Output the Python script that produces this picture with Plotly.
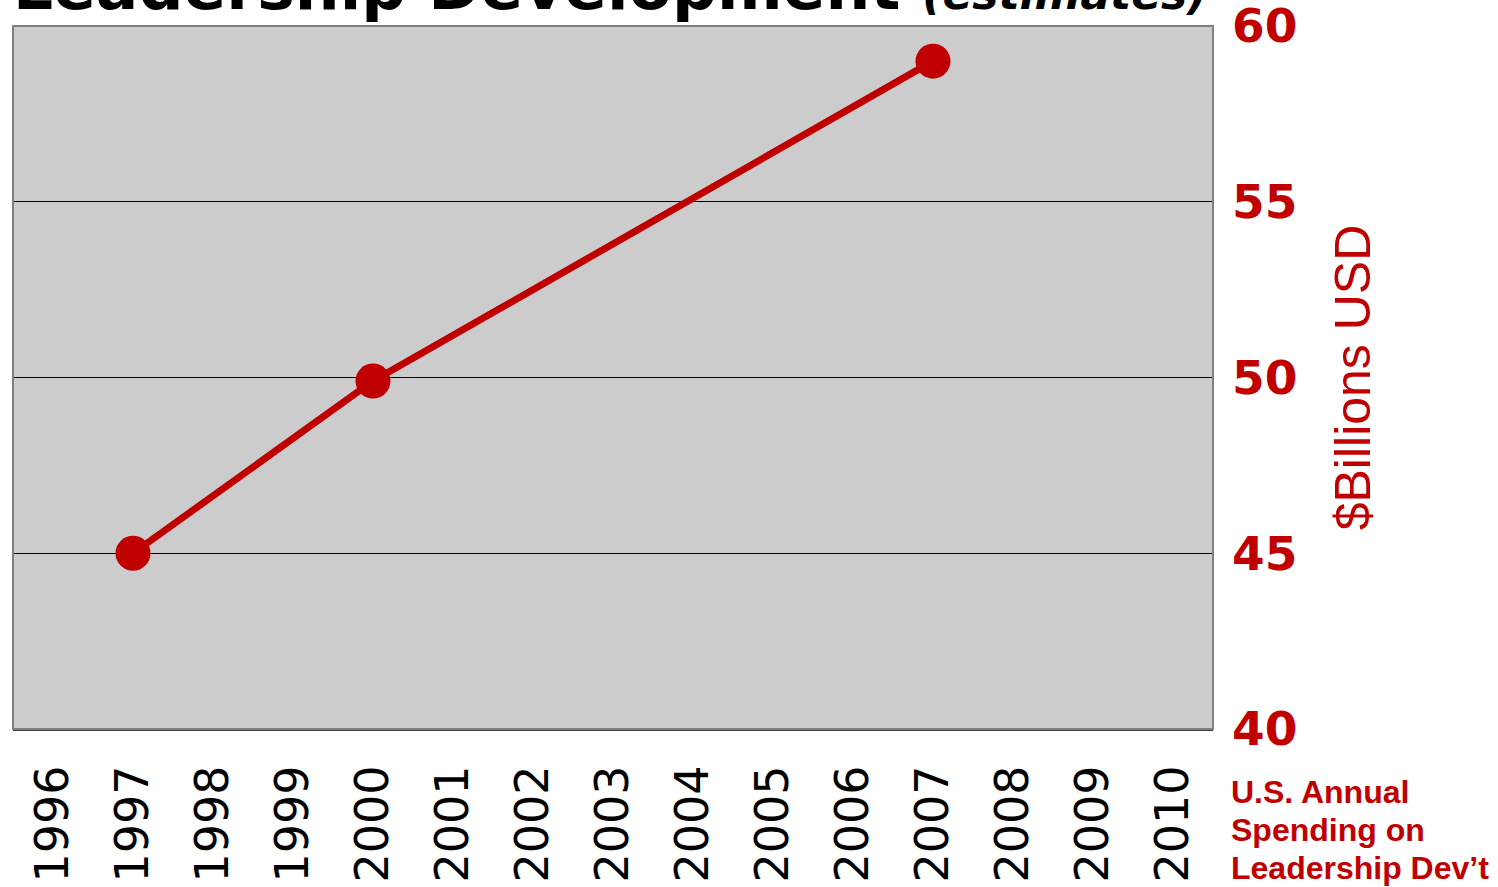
import plotly.graph_objects as go

years = [str(y) for y in range(1996, 2011)]
spending = [None, 45, None, None, 49.9, None, None, None, None, None, None, 59, None, None, None]
y_ticks = [40, 45, 50, 55, 60]

RED = "#C00000"

fig = go.Figure()
fig.add_trace(go.Scatter(
    x=years, y=spending, mode="lines+markers", connectgaps=True,
    line=dict(color=RED, width=7),
    marker=dict(color=RED, size=35),
    showlegend=False, hoverinfo="skip", cliponaxis=False,
))

fig.update_layout(
    width=1498, height=887,
    margin=dict(l=13, r=285, t=26, b=158, pad=0),
    paper_bgcolor="white", plot_bgcolor="#CCCCCC",
    xaxis=dict(
        type="category", categoryorder="array", categoryarray=years,
        range=[-0.5, 14.5], tickangle=-90, showgrid=False, zeroline=False,
        tickfont=dict(family="DejaVu Sans", size=46, color="black"),
        ticks="", ticklabelstandoff=16, automargin=False,
        showline=True, linecolor="#404040", linewidth=2,
    ),
    yaxis=dict(
        side="right", range=[40, 60], tickvals=y_ticks,
        showgrid=True, gridcolor="black", gridwidth=1, zeroline=False,
        tickfont=dict(family="DejaVu Sans", size=47, color=RED, weight="bold"),
        ticks="", ticklabelstandoff=18, automargin=False, ticklabeloverflow="allow",
        title=dict(text="$Billions USD", standoff=38,
                   font=dict(family="Liberation Sans", size=50, color=RED)),
    ),
    shapes=[dict(type="rect", xref="paper", yref="paper", x0=0, x1=1, y0=0, y1=1,
                 line=dict(color="#808080", width=2), layer="above")],
)

fig.add_annotation(
    xref="paper", yref="paper", x=-0.002, y=1.0, xanchor="left", yanchor="bottom",
    showarrow=False,
    text="<b>Leadership Development </b><span style='font-size:44px'><b><i>(estimates)</i></b></span>",
    font=dict(family="DejaVu Sans", size=63, color="black"),
)

note_lines = ["U.S. Annual", "Spending on", "Leadership Dev’t"]
note_y = [792, 830, 868]
for line, py in zip(note_lines, note_y):
    fig.add_annotation(
        xref="paper", yref="paper", x=(1229 - 13) / 1200, y=(729 - py) / 703,
        xanchor="left", yanchor="middle", showarrow=False, text="<b>%s</b>" % line,
        font=dict(family="Liberation Sans", size=32, color=RED),
    )

fig.write_html("out.html")
